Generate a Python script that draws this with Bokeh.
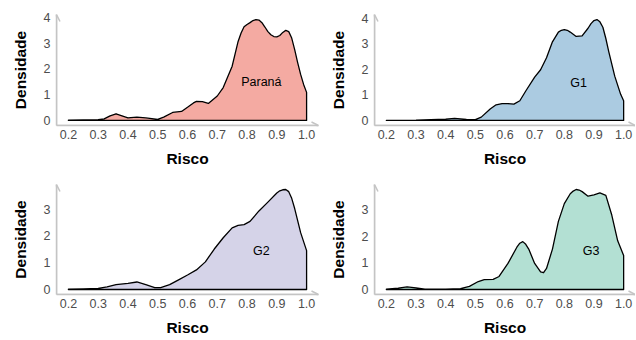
from bokeh.plotting import figure
from bokeh.layouts import column, row
from bokeh.models import Range1d, FixedTicker, Arrow, OpenHead
from bokeh.core.properties import value
from bokeh.embed import file_html
from bokeh.resources import INLINE

# ---- data ----
risco_parana = [0.20, 0.30, 0.32, 0.34, 0.36, 0.38, 0.40, 0.43, 0.46, 0.50, 0.52, 0.55, 0.58, 0.60,
                0.62, 0.63, 0.65, 0.67, 0.70, 0.72, 0.75, 0.77, 0.78, 0.79, 0.80, 0.81, 0.82, 0.83,
                0.84, 0.85, 0.86, 0.87, 0.88, 0.89, 0.90, 0.91, 0.92, 0.93, 0.94, 0.95, 0.96, 0.97,
                0.98, 0.99, 1.00]
dens_parana = [0.01, 0.03, 0.06, 0.18, 0.26, 0.18, 0.10, 0.13, 0.10, 0.04, 0.13, 0.31, 0.35, 0.51,
               0.68, 0.74, 0.73, 0.66, 0.95, 1.28, 2.11, 3.07, 3.40, 3.64, 3.73, 3.80, 3.88, 3.92,
               3.90, 3.80, 3.63, 3.45, 3.33, 3.26, 3.25, 3.30, 3.42, 3.50, 3.45, 3.20, 2.75, 2.25,
               1.79, 1.40, 1.09]

risco_g1 = [0.20, 0.30, 0.40, 0.43, 0.47, 0.50, 0.52, 0.55, 0.57, 0.59, 0.61, 0.63, 0.65, 0.67,
            0.70, 0.72, 0.74, 0.76, 0.78, 0.79, 0.80, 0.81, 0.82, 0.84, 0.86, 0.88, 0.89, 0.90,
            0.91, 0.92, 0.93, 0.94, 0.95, 0.97, 0.99, 1.00]
dens_g1 = [0.00, 0.01, 0.05, 0.08, 0.04, 0.03, 0.13, 0.45, 0.61, 0.66, 0.66, 0.64, 0.77, 1.15,
           1.69, 1.98, 2.45, 3.07, 3.45, 3.52, 3.55, 3.52, 3.45, 3.28, 3.30, 3.60, 3.78, 3.90,
           3.94, 3.85, 3.64, 3.20, 2.68, 1.73, 1.02, 0.77]

risco_g2 = [0.20, 0.25, 0.30, 0.33, 0.36, 0.40, 0.43, 0.46, 0.49, 0.51, 0.54, 0.57, 0.60, 0.63,
            0.66, 0.69, 0.72, 0.75, 0.77, 0.79, 0.81, 0.84, 0.87, 0.90, 0.91, 0.92, 0.93, 0.94,
            0.95, 0.96, 0.98, 1.00]
dens_g2 = [0.01, 0.02, 0.04, 0.10, 0.18, 0.23, 0.28, 0.18, 0.07, 0.07, 0.18, 0.36, 0.54, 0.73,
           1.03, 1.51, 1.93, 2.30, 2.39, 2.42, 2.54, 2.93, 3.26, 3.60, 3.68, 3.72, 3.73, 3.65,
           3.40, 3.02, 2.12, 1.45]

risco_g3 = [0.20, 0.24, 0.27, 0.30, 0.33, 0.40, 0.45, 0.48, 0.51, 0.53, 0.56, 0.58, 0.61, 0.64,
            0.65, 0.66, 0.67, 0.68, 0.70, 0.72, 0.73, 0.74, 0.76, 0.78, 0.80, 0.82, 0.83, 0.84,
            0.85, 0.86, 0.88, 0.90, 0.92, 0.94, 0.96, 0.98, 1.00]
dens_g3 = [0.01, 0.05, 0.10, 0.06, 0.01, 0.01, 0.03, 0.12, 0.30, 0.37, 0.38, 0.49, 0.98, 1.59,
           1.74, 1.80, 1.70, 1.52, 0.98, 0.66, 0.63, 0.79, 1.52, 2.56, 3.23, 3.60, 3.70, 3.76,
           3.74, 3.68, 3.51, 3.56, 3.63, 3.54, 2.80, 1.83, 1.28]

group_names = ["Paraná", "G1", "G2", "G3"]
fill_colors = ["#F4AAA2", "#ABCBE1", "#D5D3E8", "#B3E0D3"]
label_x = [0.848, 0.848, 0.848, 0.89]
label_y = [1.5, 1.47, 1.45, 1.46]
x_ticks = [0.2, 0.3, 0.4, 0.5, 0.6, 0.7, 0.8, 0.9, 1.0]
y_ticks = [0, 1, 2, 3, 4]

FONT = "Liberation Sans"
AXIS_GRAY = "#C4C4C4"


def panel(xs, ys, name, color, lx, ly, width, height, bl, br, bt, bb):
    xmin, xmax = min(xs), max(xs)
    ymax = max(ys)
    xpad = 0.05 * (xmax - xmin)
    x0, x1 = xmin - xpad, xmax + xpad
    y0, y1 = -0.05 * ymax, 1.05 * ymax
    p = figure(width=width, height=height, output_backend="svg", toolbar_location=None,
               x_range=Range1d(x0, x1), y_range=Range1d(y0, y1),
               min_border_left=bl, min_border_right=br, min_border_top=bt, min_border_bottom=bb)
    p.outline_line_color = None
    p.grid.visible = False
    p.background_fill_color = "white"
    p.border_fill_color = "white"

    px = [xs[0]] + list(xs) + [xs[-1], xs[0]]
    py = [0] + list(ys) + [0, 0]
    p.patch(px, py, fill_color=color, line_color="black", line_width=1.3, line_join="round")
    p.text(x=[lx], y=[ly], text=[name], text_align="center", text_baseline="middle",
           text_font=value(FONT), text_font_size="12.5px", text_color="black")

    for ax in (p.xaxis[0], p.yaxis[0]):
        ax.axis_line_color = AXIS_GRAY
        ax.axis_line_width = 1.5
        ax.major_tick_line_color = None
        ax.minor_tick_line_color = None
        ax.major_tick_out = 0
        ax.major_tick_in = 0
        ax.major_label_text_font = FONT
        ax.major_label_text_font_size = "12.5px"
        ax.major_label_text_color = "#4D4D4D"
        ax.axis_label_text_font = FONT
        ax.axis_label_text_font_style = "bold"
        ax.axis_label_text_font_size = "15.5px"
        ax.axis_label_text_color = "black"
    p.xaxis.ticker = FixedTicker(ticks=x_ticks)
    p.yaxis.ticker = FixedTicker(ticks=[t for t in y_ticks if t <= y1])
    p.xaxis.major_label_overrides = {t: f"{t:.1f}" for t in x_ticks}
    p.xaxis.axis_label = "Risco"
    p.yaxis.axis_label = "Densidade"
    p.xaxis.major_label_standoff = 4
    p.xaxis.axis_label_standoff = 8
    p.yaxis.major_label_standoff = 6
    p.yaxis.axis_label_standoff = 12

    head = dict(size=7, line_color=AXIS_GRAY, line_width=1.5)
    p.add_layout(Arrow(end=OpenHead(**head), x_start=x0, y_start=y0, x_end=x1, y_end=y0,
                       line_color=AXIS_GRAY, line_width=1.5))
    p.add_layout(Arrow(end=OpenHead(**head), x_start=x0, y_start=y0, x_end=x0, y_end=y1,
                       line_color=AXIS_GRAY, line_width=1.5))
    return p


series = [(risco_parana, dens_parana), (risco_g1, dens_g1), (risco_g2, dens_g2), (risco_g3, dens_g3)]
widths = [319, 316]
borders_lr = [(56, 1), (55, 0)]
row_h = [170, 169]
borders_tb = [(14, 45), (14, 45)]

panels = []
for i, (xs, ys) in enumerate(series):
    r, c = divmod(i, 2)
    panels.append(panel(xs, ys, group_names[i], fill_colors[i], label_x[i], label_y[i],
                        widths[c], row_h[r], borders_lr[c][0], borders_lr[c][1],
                        borders_tb[r][0], borders_tb[r][1]))

layout = column(row(panels[0], panels[1]), row(panels[2], panels[3]))
open("out.html", "w").write(file_html(layout, INLINE))
